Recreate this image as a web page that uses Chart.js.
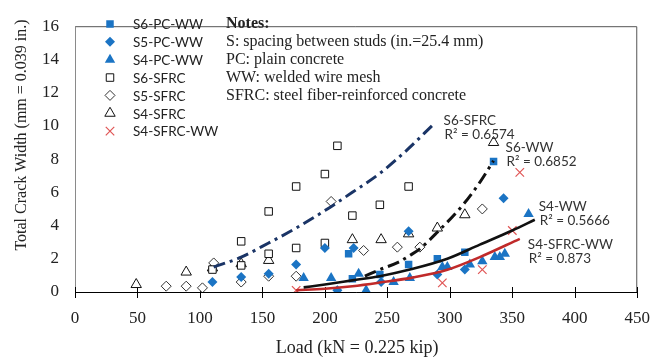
<!DOCTYPE html>
<html>
<head>
<meta charset="utf-8">
<script src="https://cdn.jsdelivr.net/npm/chart.js@4.4.1/dist/chart.umd.min.js"></script>
<style>
  html, body { margin: 0; padding: 0; background: #fff; }
  #wrap { width: 666px; height: 363px; }
</style>
</head>
<body>
<div id="wrap"><canvas id="c" width="666" height="363"></canvas></div>
<script>
// Axis ticks
const xTicks = [0, 50, 100, 150, 200, 250, 300, 350, 400, 450];
const yTicks = [0, 2, 4, 6, 8, 10, 12, 14, 16];

// Measured crack widths (mm) against load (kN)
const s6pcwwLoad  = [219, 222, 244, 267, 290, 312, 335];
const s6pcwwWidth = [2.3, 0.8, 1.05, 1.65, 2.0, 2.4, 7.85];

const s5pcwwLoad  = [110, 133, 155, 177, 200, 210, 223, 245, 267, 290, 312, 343];
const s5pcwwWidth = [0.6, 0.9, 1.1, 1.65, 2.65, 0.1, 2.65, 0.6, 3.65, 1.05, 1.35, 5.65];

const s4pcwwLoad  = [183, 205, 227, 233, 255, 268, 294, 298, 316, 326, 336, 340, 344, 363];
const s4pcwwWidth = [0.85, 0.85, 1.1, 0.1, 0.6, 0.85, 1.5, 1.5, 1.65, 1.85, 2.1, 2.1, 2.3, 4.7];

const s6sfrcLoad  = [110, 133, 133, 155, 155, 177, 177, 200, 200, 210, 222, 244, 267];
const s6sfrcWidth = [1.35, 3.05, 1.6, 4.85, 2.3, 6.35, 2.65, 7.1, 2.95, 8.8, 4.6, 5.25, 6.35];

const s5sfrcLoad  = [73, 89, 102, 111, 133, 155, 177, 205, 231, 258, 276, 326];
const s5sfrcWidth = [0.35, 0.35, 0.25, 1.75, 0.6, 0.95, 0.95, 5.45, 2.5, 2.7, 2.7, 5.0];

const s4sfrcLoad  = [49, 89, 110, 133, 155, 222, 245, 267, 290, 312, 335];
const s4sfrcWidth = [0.45, 1.2, 1.45, 1.7, 1.9, 3.15, 3.15, 3.5, 3.85, 4.65, 9.0];

const s4sfrcwwLoad  = [177, 294, 326, 350, 356];
const s4sfrcwwWidth = [0.1, 0.55, 1.35, 3.7, 7.2];

// Trend curves
const trendS6sfrcLoad  = [111, 133, 155, 177, 200, 222, 245, 265, 287];
const trendS6sfrcWidth = [1.5, 2.1, 2.95, 3.85, 4.9, 6.0, 7.2, 8.5, 10.1];

const trendS6wwLoad  = [232, 244, 259, 268, 276, 290, 310, 324, 335];
const trendS6wwWidth = [0.95, 1.35, 1.8, 2.2, 2.6, 3.6, 5.2, 6.6, 7.9];

const trendS4wwLoad  = [183, 200, 222, 244, 268, 298, 324, 350, 368];
const trendS4wwWidth = [0.28, 0.45, 0.7, 0.95, 1.35, 2.0, 2.85, 3.7, 4.35];

const trendS4sfrcwwLoad  = [177, 200, 222, 244, 271, 298, 324, 356];
const trendS4sfrcwwWidth = [0.1, 0.2, 0.35, 0.57, 0.88, 1.34, 2.1, 3.2];

const trendNames = ['S6-SFRC', 'S6-WW', 'S4-WW', 'S4-SFRC-WW'];
const trendR2 = ['0.6574', '0.6852', '0.5666', '0.873'];

const zip = (xs, ys) => xs.map((x, i) => ({ x: x, y: ys[i] }));

const BLUE = '#1b74c4';
const serif = '"Liberation Serif", "Times New Roman", serif';
const sans = 'Lato, "Open Sans", "Liberation Sans", sans-serif';

function marker(label, load, width, style) {
  return Object.assign({
    label: label,
    data: zip(load, width),
    showLine: false,
    order: 1,
    isMarker: true
  }, style);
}

function trend(label, load, width, style) {
  return Object.assign({
    label: label,
    data: zip(load, width),
    showLine: true,
    pointRadius: 0,
    pointHoverRadius: 0,
    fill: false,
    cubicInterpolationMode: 'monotone',
    borderCapStyle: 'butt',
    order: 0,
    isMarker: false
  }, style);
}

const datasets = [
  marker('S6-PC-WW', s6pcwwLoad, s6pcwwWidth,
    { pointStyle: 'rect', pointRadius: 5.3, backgroundColor: BLUE, borderColor: BLUE, borderWidth: 0 }),
  marker('S5-PC-WW', s5pcwwLoad, s5pcwwWidth,
    { pointStyle: 'rectRot', pointRadius: 5, backgroundColor: BLUE, borderColor: BLUE, borderWidth: 0 }),
  marker('S4-PC-WW', s4pcwwLoad, s4pcwwWidth,
    { pointStyle: 'triangle', pointRadius: 6, backgroundColor: BLUE, borderColor: BLUE, borderWidth: 0 }),
  marker('S6-SFRC', s6sfrcLoad, s6sfrcWidth,
    { pointStyle: 'rect', pointRadius: 5.3, backgroundColor: '#fff', borderColor: '#111', borderWidth: 1 }),
  marker('S5-SFRC', s5sfrcLoad, s5sfrcWidth,
    { pointStyle: 'rectRot', pointRadius: 5, backgroundColor: '#fff', borderColor: '#333', borderWidth: 1 }),
  marker('S4-SFRC', s4sfrcLoad, s4sfrcWidth,
    { pointStyle: 'triangle', pointRadius: 6, backgroundColor: '#fff', borderColor: '#111', borderWidth: 1 }),
  marker('S4-SFRC-WW', s4sfrcwwLoad, s4sfrcwwWidth,
    { pointStyle: 'crossRot', pointRadius: 6, backgroundColor: '#e05555', borderColor: '#e05555', borderWidth: 1.2 }),

  trend('S6-SFRC trend', trendS6sfrcLoad, trendS6sfrcWidth,
    { borderColor: '#1a3466', borderWidth: 3, borderDash: [12, 5, 3, 5] }),
  trend('S6-WW trend', trendS6wwLoad, trendS6wwWidth,
    { borderColor: '#111', borderWidth: 3, borderDash: [12, 5, 3, 5] }),
  trend('S4-WW trend', trendS4wwLoad, trendS4wwWidth,
    { borderColor: '#111', borderWidth: 2.6 }),
  trend('S4-SFRC-WW trend', trendS4sfrcwwLoad, trendS4sfrcwwWidth,
    { borderColor: '#c02a2a', borderWidth: 2.6 })
];

function drawMarker(ctx, ds, x, y) {
  ctx.save();
  ctx.fillStyle = ds.backgroundColor;
  ctx.strokeStyle = ds.borderColor;
  ctx.lineWidth = ds.borderWidth;
  Chart.helpers.drawPoint(ctx, {
    pointStyle: ds.pointStyle,
    rotation: 0,
    radius: ds.pointRadius,
    borderWidth: ds.borderWidth
  }, x, y);
  ctx.restore();
}

// Plot frame and crossing tick marks on the load axis
const framePlugin = {
  id: 'frame',
  beforeDatasetsDraw(chart) {
    const { ctx, chartArea: a, scales } = chart;
    ctx.save();
    ctx.lineWidth = 1;
    ctx.strokeStyle = '#555';
    ctx.beginPath();
    ctx.moveTo(a.left, a.top + 0.5);
    ctx.lineTo(a.right - 0.5, a.top + 0.5);
    ctx.lineTo(a.right - 0.5, a.bottom);
    ctx.stroke();
    ctx.strokeStyle = '#8a8a8a';
    ctx.beginPath();
    ctx.moveTo(a.left + 0.5, a.top);
    ctx.lineTo(a.left + 0.5, a.bottom);
    ctx.stroke();
    ctx.strokeStyle = '#000';
    ctx.beginPath();
    ctx.moveTo(a.left, a.bottom + 0.5);
    ctx.lineTo(a.right, a.bottom + 0.5);
    xTicks.forEach(v => {
      const px = Math.round(scales.x.getPixelForValue(v)) + 0.5;
      ctx.moveTo(px, a.bottom - 5);
      ctx.lineTo(px, a.bottom + 6);
    });
    ctx.stroke();
    ctx.restore();
  }
};

// Axis titles, legend, notes and trend-line labels
const textPlugin = {
  id: 'texts',
  afterDraw(chart) {
    const { ctx, chartArea: a, scales } = chart;
    ctx.save();
    ctx.fillStyle = '#222';

    // axis titles
    ctx.font = '18px ' + serif;
    ctx.textAlign = 'center';
    ctx.textBaseline = 'middle';
    ctx.fillText('Load (kN = 0.225 kip)', (a.left + a.right) / 2 + 1, 348);
    ctx.save();
    ctx.translate(22, 135);
    ctx.rotate(-Math.PI / 2);
    ctx.font = '16px ' + serif;
    ctx.fillText('Total Crack Width (mm = 0.039 in.)', 0, 0);
    ctx.restore();

    // legend
    const rowY = i => 24 + i * 17.85;
    const markers = chart.data.datasets.filter(d => d.isMarker);
    ctx.textAlign = 'left';
    ctx.font = '13.5px ' + sans;
    markers.forEach((ds, i) => {
      drawMarker(ctx, ds, 110, rowY(i));
      ctx.fillStyle = '#222';
      ctx.fillText(ds.label, 133, rowY(i) + 1);
    });

    // notes
    const notes = [
      'S: spacing between studs (in.=25.4 mm)',
      'PC: plain concrete',
      'WW: welded wire mesh',
      'SFRC: steel fiber-reinforced concrete'
    ];
    ctx.font = 'bold 16px ' + serif;
    ctx.fillText('Notes:', 226, rowY(0));
    ctx.font = '16px ' + serif;
    notes.forEach((t, i) => ctx.fillText(t, 226, rowY(i + 1)));

    // trend-line labels, placed next to the end of each curve
    const offsets = [[10, -4], [12, -13], [4, -13], [8, 6]];
    const trends = chart.data.datasets.filter(d => !d.isMarker);
    ctx.font = '13.5px ' + sans;
    ctx.fillStyle = '#333';
    trends.forEach((ds, i) => {
      const last = ds.data[ds.data.length - 1];
      const px = scales.x.getPixelForValue(last.x) + offsets[i][0];
      const py = scales.y.getPixelForValue(last.y) + offsets[i][1];
      ctx.fillText(trendNames[i], px, py);
      ctx.fillText('R\u00B2 = ' + trendR2[i], px + 1, py + 14);
    });
    ctx.restore();
  }
};

new Chart(document.getElementById('c'), {
  type: 'scatter',
  data: { datasets: datasets },
  plugins: [framePlugin, textPlugin],
  options: {
    responsive: false,
    animation: false,
    devicePixelRatio: 1,
    layout: { padding: { left: 0, right: 28, top: 12, bottom: 0 } },
    plugins: { legend: { display: false }, tooltip: { enabled: false } },
    scales: {
      x: {
        type: 'linear', min: 0, max: 450,
        afterBuildTicks: s => { s.ticks = xTicks.map(v => ({ value: v })); },
        afterFit: s => { s.height = 71; },
        grid: { display: false, drawTicks: false },
        border: { display: false },
        ticks: { padding: 16, color: '#222', font: { family: serif, size: 17 } }
      },
      y: {
        type: 'linear', min: 0, max: 16,
        afterBuildTicks: s => { s.ticks = yTicks.map(v => ({ value: v })); },
        afterFit: s => { s.width = 75; },
        grid: { display: false, drawTicks: false },
        border: { display: false },
        ticks: { padding: 16, color: '#222', font: { family: serif, size: 17 } }
      }
    }
  }
});
</script>
</body>
</html>
